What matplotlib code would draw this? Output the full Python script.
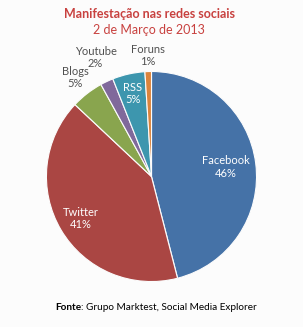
import numpy as np
import matplotlib
matplotlib.use("Agg")
import matplotlib.pyplot as plt

labels = ["Facebook", "Twitter", "Blogs", "Youtube", "RSS", "Foruns"]
values = [46, 41, 5, 2, 5, 1]
colors = ["#4572A7", "#AA4643", "#89A54E", "#80699B", "#3D96AE", "#DB843D"]
explode = [0.03, 0.076, 0, 0, 0, 0]
# label distance (fraction of radius) and whether it sits inside the slice
label_r = [0.71, 0.78, 1.19, 1.25, 0.81, 1.15]
inside = [True, True, False, False, True, False]

title1 = "Manifestação nas redes sociais"
title2 = "2 de Março de 2013"
source_bold = "Fonte"
source_rest = ": Grupo Marktest, Social Media Explorer"

plt.rcParams['font.family'] = ['Lato', 'DejaVu Sans']
bg = "#fcfcfc"
W, H = 303, 327
fig = plt.figure(figsize=(W / 100, H / 100), dpi=100, facecolor=bg)
ax = fig.add_axes([0, 0, 1, 1])

cx, cy, r = 151.5, H - 176.5, 105
wedges, _ = ax.pie(values, explode=explode, colors=colors, startangle=90,
                   counterclock=False, center=(cx, cy), radius=r,
                   wedgeprops=dict(edgecolor=bg, linewidth=0.8), frame=True)
ax.set_xlim(0, W)
ax.set_ylim(0, H)
ax.set_aspect("equal")
ax.axis("off")

for i, w in enumerate(wedges):
    mid = np.deg2rad((w.theta1 + w.theta2) / 2)
    wx, wy = w.center
    x = wx + label_r[i] * r * np.cos(mid)
    y = wy + label_r[i] * r * np.sin(mid)
    ax.text(x, y, "%s\n%d%%" % (labels[i], values[i]), ha="center", va="center",
            fontsize=8, color="white" if inside[i] else "#505050", linespacing=1.15)

ax.text(149, H - 14, title1, ha="center", va="center", fontsize=9,
        fontweight="bold", color="#C8413F")
ax.text(149, H - 30, title2, ha="center", va="center", fontsize=9,
        color="#C8413F")

fig.canvas.draw()
renderer = fig.canvas.get_renderer()
tb = ax.text(0, H - 307, source_bold, ha="left", va="center", fontsize=7.2,
             fontweight="bold", color="black")
tr = ax.text(0, H - 307, source_rest, ha="left", va="center", fontsize=7.2,
             color="black")
wb = tb.get_window_extent(renderer).width
wr = tr.get_window_extent(renderer).width
x0 = 156 - (wb + wr) / 2
tb.set_x(x0)
tr.set_x(x0 + wb)

fig.savefig("out.png", dpi=100, facecolor=bg)
